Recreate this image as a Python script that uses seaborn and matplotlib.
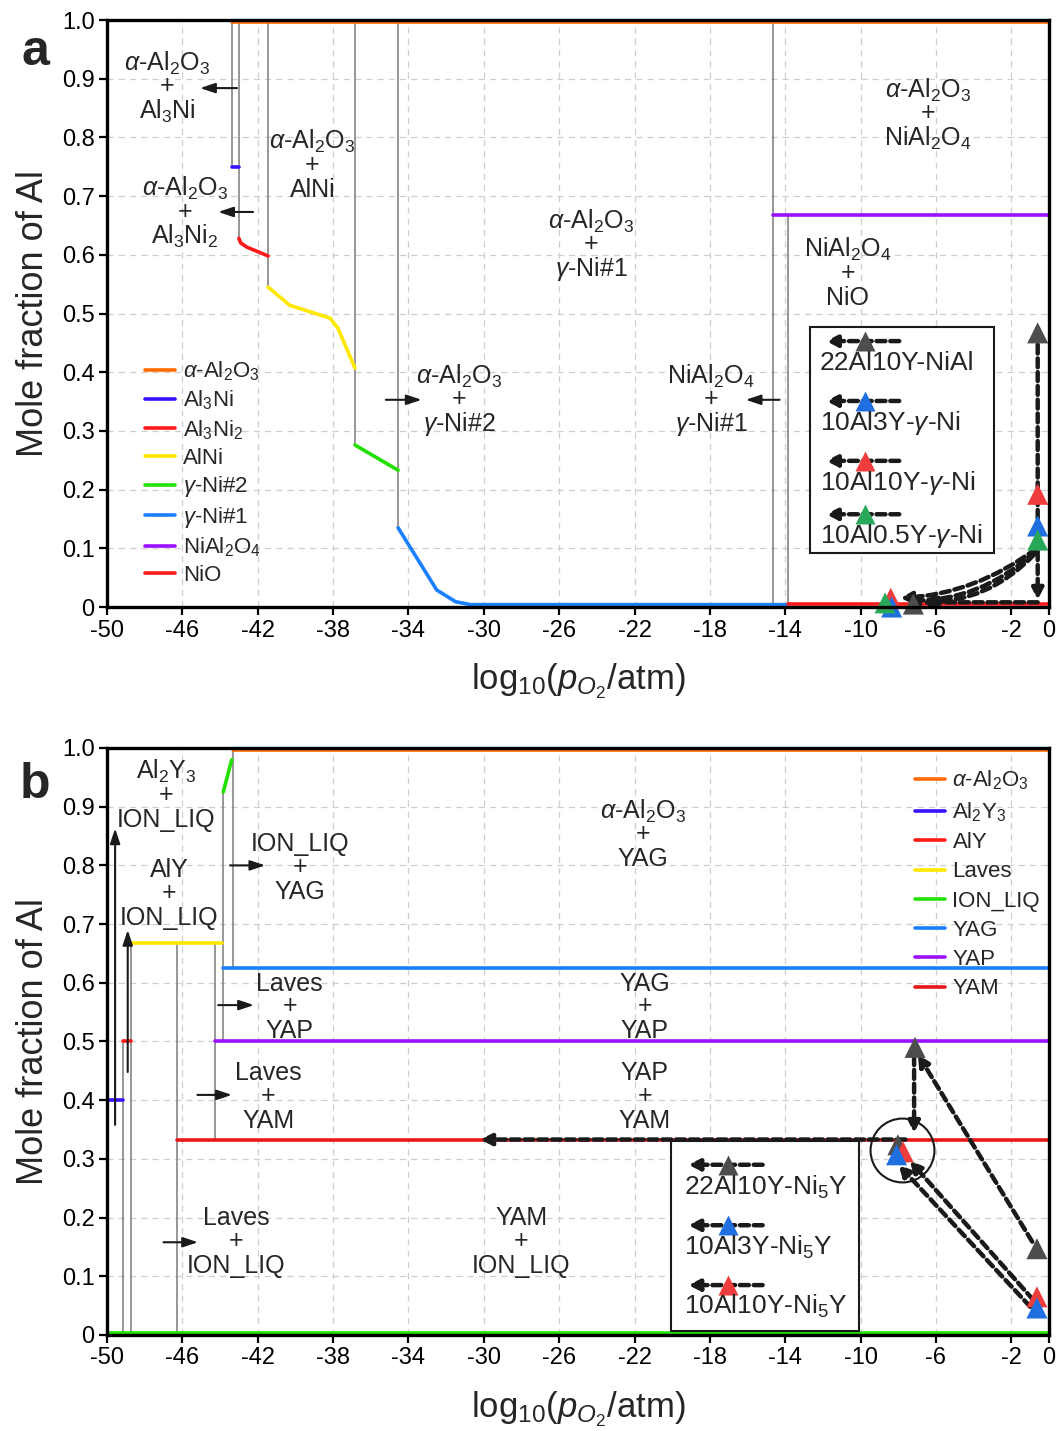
import numpy as np
import pandas as pd
import matplotlib
matplotlib.use('Agg')
import matplotlib.pyplot as plt
import seaborn as sns
from matplotlib.patches import Rectangle

sns.set_theme(style='white')
plt.rcParams['font.family'] = ['Liberation Sans', 'DejaVu Sans']
plt.rcParams['mathtext.fontset'] = 'custom'
plt.rcParams['mathtext.rm'] = 'Liberation Sans'
plt.rcParams['mathtext.it'] = 'Liberation Sans:italic'
plt.rcParams['mathtext.bf'] = 'Liberation Sans:bold'

# ---------------- axes ticks ----------------
x_ticks = [-50, -46, -42, -38, -34, -30, -26, -22, -18, -14, -10, -6, -2, 0]
x_tick_labels = ['-50', '-46', '-42', '-38', '-34', '-30', '-26', '-22', '-18', '-14', '-10', '-6', '-2', '0']
y_ticks = [0.0, 0.1, 0.2, 0.3, 0.4, 0.5, 0.6, 0.7, 0.8, 0.9, 1.0]
y_tick_labels = ['0', '0.1', '0.2', '0.3', '0.4', '0.5', '0.6', '0.7', '0.8', '0.9', '1.0']

# ---------------- panel a : phase lines ----------------
a_alumina_x = [-43.35, 0.0];  a_alumina_y = [0.996, 0.996]
a_al3ni_x = [-43.35, -43.0];  a_al3ni_y = [0.75, 0.75]
a_al3ni2_x = [-43.0, -42.9, -42.57, -41.45];  a_al3ni2_y = [0.628, 0.620, 0.613, 0.598]
a_alni_x = [-41.45, -40.3, -38.16, -37.74, -36.84];  a_alni_y = [0.545, 0.514, 0.492, 0.475, 0.407]
a_gni2_x = [-36.84, -34.55];  a_gni2_y = [0.276, 0.233]
a_gni1_x = [-34.55, -32.5, -31.5, -30.7, -13.85];  a_gni1_y = [0.135, 0.029, 0.009, 0.004, 0.004]
a_nial2o4_x = [-14.67, 0.0];  a_nial2o4_y = [0.667, 0.667]
a_nio_x = [-13.85, 0.0];  a_nio_y = [0.005, 0.005]

a_phase_names = [r'$\alpha$-Al$_2$O$_3$', r'Al$_3$Ni', r'Al$_3$Ni$_2$', 'AlNi',
                 r'$\gamma$-Ni#2', r'$\gamma$-Ni#1', r'NiAl$_2$O$_4$', 'NiO']
a_phase_colors = ['#ff6a00', '#3a10ff', '#ff1a1a', '#ffe800', '#22e000', '#1a80ff', '#9b10ff', '#ff1a1a']

# gray phase-boundary verticals (x, ymin, ymax)
a_vx = [-43.35, -43.0, -41.45, -36.84, -34.55, -14.67, -13.85]
a_vymin = [0.75, 0.628, 0.545, 0.276, 0.135, 0.004, 0.004]
a_vymax = [1.0, 1.0, 1.0, 1.0, 1.0, 1.0, 0.667]

# region labels (x, y of "+", top, bottom)
a_lab_x = [-46.8, -45.86, -39.1, -24.3, -6.42, -10.67, -31.3, -17.94]
a_lab_y = [0.889, 0.676, 0.756, 0.620, 0.843, 0.571, 0.356, 0.356]
a_lab_top = [r'$\alpha$-Al$_2$O$_3$'] * 5 + [r'NiAl$_2$O$_4$', r'$\alpha$-Al$_2$O$_3$', r'NiAl$_2$O$_4$']
a_lab_bot = [r'Al$_3$Ni', r'Al$_3$Ni$_2$', 'AlNi', r'$\gamma$-Ni#1', r'NiAl$_2$O$_4$', 'NiO',
             r'$\gamma$-Ni#2', r'$\gamma$-Ni#1']
# label arrows (x from, x to, y)
a_arr_x0 = [-43.1, -42.25, -35.2, -14.3]
a_arr_x1 = [-45.06, -44.1, -33.3, -16.1]
a_arr_y = [0.884, 0.673, 0.353, 0.353]

# samples panel a
a_samples = ['22Al10Y-NiAl', r'10Al3Y-$\gamma$-Ni', r'10Al10Y-$\gamma$-Ni', r'10Al0.5Y-$\gamma$-Ni']
a_sample_colors = ['#4d4d4d', '#1f6fe0', '#ee3b3b', '#2aa85a']
a_start_x = [-0.6, -0.6, -0.6, -0.6]
a_start_y = [0.467, 0.138, 0.192, 0.114]
a_end_x = [-7.2, -8.35, -8.4, -8.7]
a_end_y = [0.005, 0.0, 0.015, 0.007]

# ---------------- panel b ----------------
b_alumina_x = [-43.33, 0.0];  b_alumina_y = [0.996, 0.996]
b_al2y3_x = [-50.0, -49.13];  b_al2y3_y = [0.40, 0.40]
b_aly_x = [-49.13, -48.7];  b_aly_y = [0.50, 0.50]
b_laves_x = [-48.7, -43.9];  b_laves_y = [0.667, 0.667]
b_ionliq_x = [-50.0, 0.0];  b_ionliq_y = [0.004, 0.004]
b_ionliq2_x = [-43.83, -43.38];  b_ionliq2_y = [0.925, 0.98]
b_yag_x = [-43.83, 0.0];  b_yag_y = [0.625, 0.625]
b_yap_x = [-44.27, 0.0];  b_yap_y = [0.50, 0.50]
b_yam_x = [-46.27, 0.0];  b_yam_y = [0.333, 0.333]

b_phase_names = [r'$\alpha$-Al$_2$O$_3$', r'Al$_2$Y$_3$', 'AlY', 'Laves', 'ION_LIQ', 'YAG', 'YAP', 'YAM']
b_phase_colors = ['#ff6a00', '#3a10ff', '#ff1a1a', '#ffe800', '#22e000', '#1a80ff', '#9b10ff', '#e81818']

b_vx = [-49.13, -48.7, -46.27, -44.27, -43.83, -43.33]
b_vymin = [0.004, 0.004, 0.004, 0.333, 0.5, 0.625]
b_vymax = [0.5, 0.667, 0.667, 0.667, 0.925, 1.0]

b_lab_x = [-46.87, -46.7, -39.76, -21.55, -40.3, -21.45, -41.45, -21.45, -43.15, -28.0]
b_lab_y = [0.923, 0.755, 0.80, 0.855, 0.562, 0.562, 0.41, 0.41, 0.162, 0.162]
b_lab_top = [r'Al$_2$Y$_3$', 'AlY', 'ION_LIQ', r'$\alpha$-Al$_2$O$_3$', 'Laves', 'YAG', 'Laves', 'YAP', 'Laves', 'YAM']
b_lab_bot = ['ION_LIQ', 'ION_LIQ', 'YAG', 'YAG', 'YAP', 'YAP', 'YAM', 'YAM', 'ION_LIQ', 'ION_LIQ']
b_arr_x0 = [-43.47, -44.1, -45.2, -47.0]
b_arr_x1 = [-41.6, -42.2, -43.37, -45.17]
b_arr_y = [0.80, 0.562, 0.409, 0.158]
# vertical black arrows (x, y from, y to)
b_varr_x = [-49.57, -48.9]
b_varr_y0 = [0.358, 0.448]
b_varr_y1 = [0.863, 0.69]

b_samples = [r'22Al10Y-Ni$_5$Y', r'10Al3Y-Ni$_5$Y', r'10Al10Y-Ni$_5$Y']
b_sample_colors = ['#4d4d4d', '#1f6fe0', '#ee3b3b']
b_start_x = [-0.64, -0.64, -0.64]
b_start_y = [0.147, 0.046, 0.065]
b_mid_x = [-7.11]
b_mid_y = [0.49]
b_end_x = [-8.02, -8.09, -7.74]
b_end_y = [0.324, 0.307, 0.312]
b_circle_x = [-7.82]
b_circle_y = [0.315]

# ---------------- helpers ----------------
LAB_FS = 18
GRAY = '#7a7a7a'


def style_axes(ax):
    ax.set_xlim(-50, 0)
    ax.set_ylim(0, 1)
    ax.set_xticks(x_ticks)
    ax.set_xticklabels(x_tick_labels)
    ax.set_yticks(y_ticks)
    ax.set_yticklabels(y_tick_labels)
    ax.grid(True, ls=(0, (5, 4)), color='#cfcfcf', lw=0.9)
    ax.set_axisbelow(True)
    for s in ax.spines.values():
        s.set_color('black')
        s.set_linewidth(2.4)
        s.set_zorder(10)
    ax.tick_params(direction='out', length=6, width=1.6, labelsize=17, colors='black',
                   bottom=True, left=True, pad=3)
    ax.set_ylabel('Mole fraction of Al', fontsize=26, labelpad=8)
    ax.set_xlabel(r'$\mathrm{log}_{10}(\mathit{p}_{\mathit{O}_2}\mathrm{/atm})$', fontsize=25, labelpad=14)


def line(ax, xs, ys, color, label=None, lw=2.6):
    df = pd.DataFrame({'x': xs, 'y': ys})
    sns.lineplot(data=df, x='x', y='y', color=color, lw=lw, ax=ax, sort=False,
                 estimator=None, label=label, legend=False, zorder=4)


def phase_label(ax, x, y, top, bot):
    kw = dict(ha='center', va='baseline', fontsize=LAB_FS, textcoords='offset points', zorder=7)
    ax.annotate(top, (x, y), xytext=(0, 10.5), **kw)
    ax.annotate('+', (x, y), xytext=(0, -6), **kw)
    ax.annotate(bot, (x, y), xytext=(0, -24), **kw)


def solid_arrow(ax, p0, p1):
    ax.annotate('', xy=p1, xytext=p0,
                arrowprops=dict(arrowstyle='-|>,head_length=0.6,head_width=0.2', color='k', lw=1.5,
                                shrinkA=0, shrinkB=0, mutation_scale=15), zorder=7)


def dashed_arrow(ax, p0, p1, rad=0.0, coords='data'):
    ax.annotate('', xy=p1, xytext=p0, xycoords=coords, textcoords=coords,
                arrowprops=dict(arrowstyle='-|>,head_length=0.5,head_width=0.25', color='k', lw=3.2,
                                ls=(0, (2.0, 1.1)), shrinkA=0, shrinkB=0, mutation_scale=13,
                                connectionstyle=f'arc3,rad={rad}'),
                annotation_clip=False, zorder=8)


def tri(ax, xs, ys, color, s=230):
    sns.scatterplot(x=xs, y=ys, marker='^', s=s, color=color, edgecolor='none', ax=ax,
                    zorder=9, clip_on=False, legend=False)


def sample_box(ax, box, names, colors, glyph_y, text_y, gx0, gx1, gtri, tx):
    ax.add_patch(Rectangle((box[0], box[1]), box[2], box[3], transform=ax.transAxes,
                           fill=True, fc='white', ec='k', lw=1.5, zorder=8))
    for n, c, gy, ty in zip(names, colors, glyph_y, text_y):
        dashed_arrow(ax, (gx1, gy), (gx0, gy), coords='axes fraction')
        ax.plot([gtri], [gy], marker='^', ms=14, color=c, mec='none', transform=ax.transAxes,
                zorder=9, clip_on=False)
        ax.text(tx, ty, n, transform=ax.transAxes, fontsize=19, va='center', ha='left', zorder=9)


def phase_legend(ax, anchor, spacing):
    handles, labels = ax.get_legend_handles_labels()
    leg = ax.legend(handles[:8], labels[:8], loc='upper left', bbox_to_anchor=anchor, frameon=False,
                    fontsize=16, handlelength=1.35, handletextpad=0.35, labelspacing=spacing,
                    borderaxespad=0)
    for h in leg.get_lines():
        h.set_linewidth(2.6)


fig = plt.figure(figsize=(10.59, 14.31), dpi=100)
ax_a = fig.add_axes([0.10104, 0.57582, 0.88952, 0.41020])
ax_b = fig.add_axes([0.10104, 0.06709, 0.88952, 0.41020])

# ---------------- panel a ----------------
ax = ax_a
style_axes(ax)
ax.vlines(a_vx, a_vymin, a_vymax, colors=GRAY, lw=1.1, zorder=3)
a_series = [(a_alumina_x, a_alumina_y), (a_al3ni_x, a_al3ni_y), (a_al3ni2_x, a_al3ni2_y),
            (a_alni_x, a_alni_y), (a_gni2_x, a_gni2_y), (a_gni1_x, a_gni1_y),
            (a_nial2o4_x, a_nial2o4_y), (a_nio_x, a_nio_y)]
for (xs, ys), n, c in zip(a_series, a_phase_names, a_phase_colors):
    line(ax, xs, ys, c, label=n)
for x, y, t, b in zip(a_lab_x, a_lab_y, a_lab_top, a_lab_bot):
    phase_label(ax, x, y, t, b)
for x0, x1, y in zip(a_arr_x0, a_arr_x1, a_arr_y):
    solid_arrow(ax, (x0, y), (x1, y))
phase_legend(ax, (0.031, 0.437), 0.26)

# dashed paths panel a
dashed_arrow(ax, (a_start_x[0], a_start_y[0] - 0.02), (a_start_x[0], 0.012))
dashed_arrow(ax, (a_start_x[0], 0.008), (a_end_x[0] + 0.6, 0.008))
dashed_arrow(ax, (a_start_x[3] - 0.1, a_start_y[3] - 0.015), (a_end_x[2] + 0.5, a_end_y[2]), rad=-0.15)
dashed_arrow(ax, (a_start_x[3] - 0.15, a_start_y[3] - 0.02), (a_end_x[1] + 0.75, 0.011), rad=-0.2)
dashed_arrow(ax, (a_start_x[3] - 0.2, a_start_y[3] - 0.025), (a_end_x[0] + 0.4, 0.009), rad=-0.22)

for i in [2, 1, 3, 0]:
    tri(ax, [a_start_x[i]], [a_start_y[i]], a_sample_colors[i])
for i in [2, 1, 3, 0]:
    tri(ax, [a_end_x[i]], [a_end_y[i]], a_sample_colors[i])

sample_box(ax, (0.746, 0.092, 0.1956, 0.385), a_samples, a_sample_colors,
           [0.453, 0.351, 0.249, 0.158], [0.416, 0.313, 0.211, 0.121],
           0.763, 0.841, 0.805, 0.757)

# ---------------- panel b ----------------
ax = ax_b
style_axes(ax)
ax.vlines(b_vx, b_vymin, b_vymax, colors=GRAY, lw=1.1, zorder=3)
b_series = [(b_alumina_x, b_alumina_y), (b_al2y3_x, b_al2y3_y), (b_aly_x, b_aly_y),
            (b_laves_x, b_laves_y), (b_ionliq_x, b_ionliq_y), (b_yag_x, b_yag_y),
            (b_yap_x, b_yap_y), (b_yam_x, b_yam_y)]
for (xs, ys), n, c in zip(b_series, b_phase_names, b_phase_colors):
    line(ax, xs, ys, c, label=n)
line(ax, b_ionliq2_x, b_ionliq2_y, b_phase_colors[4])
for x, y, t, b in zip(b_lab_x, b_lab_y, b_lab_top, b_lab_bot):
    phase_label(ax, x, y, t, b)
for x0, x1, y in zip(b_arr_x0, b_arr_x1, b_arr_y):
    solid_arrow(ax, (x0, y), (x1, y))
for x, y0, y1 in zip(b_varr_x, b_varr_y0, b_varr_y1):
    solid_arrow(ax, (x, y0), (x, y1))
phase_legend(ax, (0.848, 0.98), 0.37)

# dashed paths panel b
dashed_arrow(ax, (b_mid_x[0] - 0.05, b_mid_y[0] - 0.015), (b_mid_x[0] - 0.05, 0.344))
dashed_arrow(ax, (b_start_x[0] - 0.25, b_start_y[0] + 0.012), (b_mid_x[0] + 0.15, b_mid_y[0] - 0.012))
dashed_arrow(ax, (b_start_x[2] - 0.2, b_start_y[2] - 0.005), (b_end_x[2] + 0.35, 0.297))
dashed_arrow(ax, (b_start_x[1] - 0.35, b_start_y[1] + 0.002), (b_end_x[1] + 0.1, 0.29))
dashed_arrow(ax, (b_end_x[0] + 0.4, 0.333), (-30.2, 0.333))

tri(ax, b_mid_x, b_mid_y, b_sample_colors[0])
for i in [0, 2, 1]:
    tri(ax, [b_start_x[i]], [b_start_y[i]], b_sample_colors[i])
for i in [0, 2, 1]:
    tri(ax, [b_end_x[i]], [b_end_y[i]], b_sample_colors[i])
ax.plot(b_circle_x, b_circle_y, marker='o', ms=46, mfc='none', mec='k', mew=1.5, zorder=9, ls='none')

sample_box(ax, (0.599, 0.006, 0.199, 0.324), b_samples, b_sample_colors,
           [0.290, 0.187, 0.085], [0.252, 0.150, 0.048],
           0.617, 0.696, 0.659, 0.612)

fig.text(35 / 1059, 1 - 52 / 1431, 'a', fontsize=36, weight='bold', ha='center', va='center')
fig.text(35 / 1059, 1 - 785 / 1431, 'b', fontsize=36, weight='bold', ha='center', va='center')

fig.savefig('out.png', dpi=100)
